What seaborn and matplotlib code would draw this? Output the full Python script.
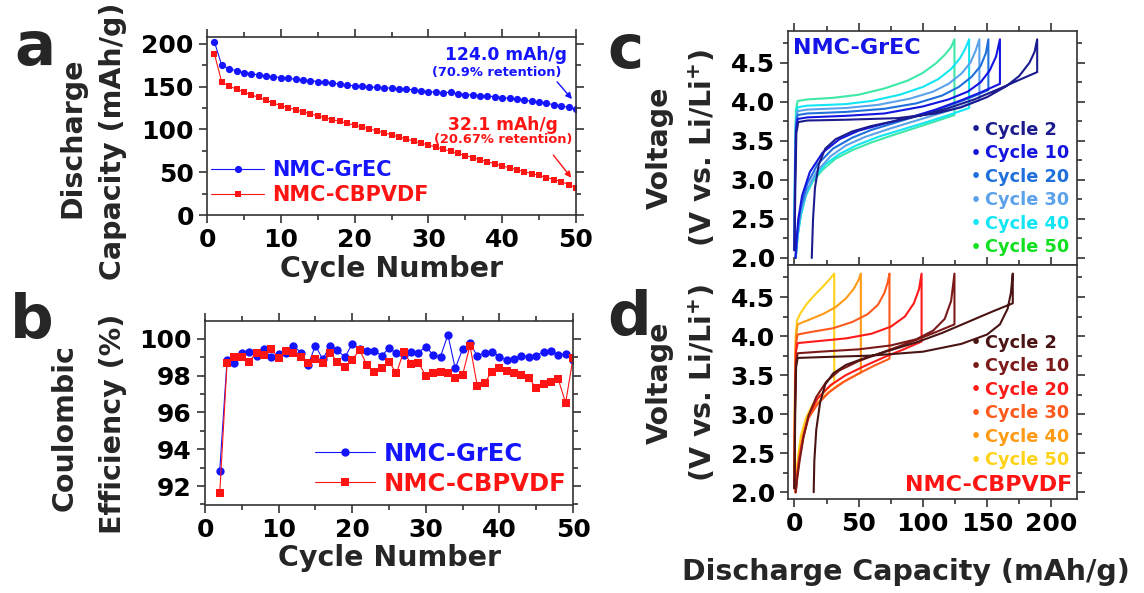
import numpy as np
import pandas as pd
import matplotlib
matplotlib.use("Agg")
import matplotlib.pyplot as plt
import seaborn as sns

# ---------------- data ----------------
cycles_a = list(range(1, 51))
grec_capacity = [202.5, 174.9, 171.0, 168.5, 166.5, 165.0, 163.8, 162.6, 161.6, 160.6,
                 159.6, 158.7, 157.8, 157.0, 156.0, 155.0, 154.0, 153.0, 151.8, 150.8,
                 150.2, 149.6, 149.0, 148.6, 148.2, 147.6, 147.0, 146.2, 145.2, 144.2,
                 143.5, 142.8, 143.6, 141.5, 140.8, 140.2, 139.6, 139.0, 138.2, 137.2,
                 136.3, 135.3, 134.2, 133.1, 131.8, 130.4, 129.0, 127.6, 125.8, 124.0]
cbpvdf_capacity = [188.3, 155.3, 150.5, 147.0, 143.8, 140.5, 137.4, 134.2, 130.8, 127.8,
                   125.4, 123.0, 120.6, 118.2, 115.8, 113.6, 111.4, 109.3, 107.2, 105.0,
                   102.8, 100.6, 98.3, 96.0, 93.6, 91.2, 88.8, 86.4, 84.0, 81.8,
                   79.4, 77.0, 74.6, 72.0, 69.5, 67.0, 64.6, 62.2, 59.8, 57.4,
                   55.1, 52.8, 50.6, 48.4, 46.2, 43.8, 41.4, 38.9, 35.6, 32.1]

cycles_b = list(range(2, 51))
grec_ce = [92.83, 98.86, 98.68, 99.22, 99.31, 99.09, 99.44, 99.00, 99.18, 99.26,
           99.64, 99.26, 98.58, 99.64, 98.89, 99.64, 99.40, 99.00, 99.73, 99.44,
           99.36, 99.36, 99.09, 99.49, 99.22, 99.13, 99.31, 99.26, 99.58, 99.13,
           99.04, 100.22, 98.40, 99.44, 99.76, 99.07, 99.26, 99.31, 99.04, 98.86,
           98.93, 99.09, 99.04, 99.09, 99.31, 99.35, 99.13, 99.18, 98.86]
cbpvdf_ce = [91.60, 98.68, 99.00, 99.00, 98.77, 99.26, 99.13, 99.44, 98.95, 99.36,
             99.22, 99.04, 98.68, 98.89, 98.68, 99.22, 98.77, 98.46, 98.86, 99.40,
             98.58, 98.22, 98.44, 98.77, 98.13, 99.31, 98.64, 98.71, 97.99, 98.13,
             98.19, 98.17, 97.86, 98.04, 99.64, 97.44, 97.62, 98.22, 98.40, 98.28,
             98.17, 98.04, 97.89, 97.31, 97.53, 97.68, 97.80, 96.53, 98.95]

curve_cycles = [2, 10, 20, 30, 40, 50]
grec_colors = ["#1c1c8e", "#1515e0", "#2070dc", "#5ca2ea", "#12e6f5", "#3ee8a6"]
grec_label_colors = ["#1c1c8e", "#1515e0", "#2070dc", "#5ca2ea", "#12e6f5", "#10e020"]
cbpvdf_colors = ["#4a1414", "#7c1a1a", "#ff1a1a", "#ff5a1e", "#ff9a14", "#ffd21a"]

grec_x = {
    2: [0, 0.8, 1.5, 3, 10, 40, 80, 110, 130, 150, 165, 175, 183, 187, 189,
        189, 175, 160, 140, 120, 100, 80, 60, 45, 32, 24, 19, 16, 14.5, 13.5],
    10: [0, 0.5, 1.2, 2.5, 10, 40, 70, 100, 120, 135, 145, 152, 157, 160,
         160, 145, 130, 110, 90, 70, 50, 35, 22, 12, 6, 3, 1.5, 0.8],
    20: [0, 0.5, 1.2, 2.5, 10, 40, 70, 95, 115, 128, 138, 145, 149, 151,
         151, 135, 120, 100, 80, 60, 45, 30, 18, 10, 5, 2.5, 1],
    30: [0, 0.5, 1.2, 2.5, 10, 40, 65, 90, 108, 120, 130, 137, 141, 144,
         144, 130, 115, 95, 75, 55, 40, 28, 17, 10, 5, 2.5, 1],
    40: [0, 0.5, 1.2, 2.5, 10, 40, 60, 82, 100, 112, 122, 129, 133, 136,
         136, 122, 105, 85, 65, 48, 35, 24, 15, 9, 5, 2.5, 1],
    50: [0, 0.5, 1.2, 2.5, 10, 30, 50, 70, 88, 100, 110, 117, 122, 124.6,
         124.6, 110, 95, 78, 60, 45, 32, 22, 14, 9, 5, 2.5, 1],
}
grec_v = {
    2: [2.1, 3.0, 3.6, 3.74, 3.76, 3.77, 3.79, 3.85, 3.93, 4.06, 4.2, 4.33, 4.5, 4.64, 4.8,
        4.38, 4.28, 4.17, 4.03, 3.92, 3.83, 3.76, 3.69, 3.62, 3.52, 3.4, 3.2, 2.9, 2.5, 2.0],
    10: [2.1, 3.0, 3.6, 3.78, 3.80, 3.82, 3.85, 3.94, 4.03, 4.13, 4.25, 4.4, 4.58, 4.8,
         4.23, 4.12, 4.02, 3.9, 3.8, 3.72, 3.63, 3.52, 3.35, 3.1, 2.8, 2.5, 2.2, 2.0],
    20: [2.1, 3.1, 3.7, 3.83, 3.85, 3.87, 3.91, 3.98, 4.08, 4.19, 4.32, 4.46, 4.62, 4.8,
         4.15, 4.04, 3.95, 3.84, 3.74, 3.64, 3.54, 3.4, 3.2, 2.95, 2.65, 2.35, 2.0],
    30: [2.1, 3.2, 3.75, 3.88, 3.9, 3.92, 3.96, 4.04, 4.13, 4.23, 4.36, 4.5, 4.65, 4.8,
         4.02, 3.94, 3.86, 3.76, 3.66, 3.55, 3.44, 3.3, 3.1, 2.88, 2.6, 2.3, 2.0],
    40: [2.1, 3.3, 3.8, 3.93, 3.95, 3.97, 4.01, 4.09, 4.19, 4.29, 4.42, 4.56, 4.68, 4.8,
         3.92, 3.84, 3.75, 3.65, 3.55, 3.44, 3.33, 3.2, 3.02, 2.82, 2.55, 2.28, 2.0],
    50: [2.1, 3.4, 3.9, 4.01, 4.03, 4.05, 4.09, 4.17, 4.27, 4.37, 4.49, 4.6, 4.7, 4.8,
         3.83, 3.75, 3.67, 3.58, 3.48, 3.38, 3.27, 3.13, 2.97, 2.8, 2.55, 2.28, 2.0],
}
cbpvdf_x = {
    2: [0, 0.6, 1.3, 2.5, 20, 60, 100, 130, 150, 160, 166, 168.5, 170,
        170, 155, 135, 115, 95, 75, 55, 40, 30, 24, 20, 17, 15.5, 15],
    10: [0, 0.5, 1.2, 2.5, 20, 50, 75, 95, 108, 117, 122, 124.6,
         124.6, 110, 90, 70, 50, 35, 25, 17, 11, 7, 4, 2, 1],
    20: [0, 0.5, 1.2, 2.5, 15, 40, 60, 75, 86, 93, 97, 99,
         99, 85, 70, 55, 40, 28, 18, 11, 7, 4, 2, 1],
    30: [0, 0.5, 1.2, 2.5, 12, 30, 45, 57, 65, 70, 72.5, 74,
         74, 62, 50, 38, 27, 18, 11, 7, 4, 2, 1],
    40: [0, 0.5, 1.2, 2.5, 10, 22, 32, 40, 46, 50, 51.7,
         51.7, 42, 33, 25, 18, 12, 8, 5, 3, 1.5, 0.8],
    50: [0, 0.4, 1, 2, 5, 10, 16, 22, 27, 31,
         31, 26, 20, 14, 9, 5, 3, 1.5, 0.7],
}
cbpvdf_v = {
    2: [2.05, 3.0, 3.6, 3.72, 3.73, 3.75, 3.8, 3.9, 4.02, 4.15, 4.35, 4.55, 4.8,
        4.42, 4.32, 4.18, 4.04, 3.92, 3.82, 3.72, 3.63, 3.52, 3.38, 3.15, 2.8, 2.4, 2.0],
    10: [2.05, 3.1, 3.65, 3.78, 3.8, 3.83, 3.88, 3.96, 4.07, 4.22, 4.45, 4.8,
         4.15, 4.05, 3.92, 3.8, 3.68, 3.56, 3.42, 3.22, 2.98, 2.7, 2.4, 2.15, 2.0],
    20: [2.05, 3.2, 3.8, 3.91, 3.93, 3.97, 4.03, 4.12, 4.25, 4.42, 4.6, 4.8,
         3.93, 3.83, 3.73, 3.62, 3.5, 3.37, 3.2, 2.98, 2.72, 2.45, 2.2, 2.0],
    30: [2.05, 3.3, 3.9, 4.02, 4.05, 4.1, 4.18, 4.28, 4.4, 4.55, 4.68, 4.8,
         3.71, 3.62, 3.52, 3.41, 3.28, 3.13, 2.95, 2.72, 2.45, 2.2, 2.0],
    40: [2.05, 3.4, 4.0, 4.15, 4.2, 4.28, 4.37, 4.48, 4.6, 4.72, 4.8,
         3.53, 3.45, 3.36, 3.26, 3.14, 3.0, 2.82, 2.6, 2.38, 2.18, 2.0],
    50: [2.05, 3.5, 4.0, 4.2, 4.3, 4.42, 4.53, 4.63, 4.72, 4.8,
         3.4, 3.33, 3.24, 3.12, 2.95, 2.72, 2.48, 2.25, 2.0],
}

BLUE = "#1414ff"
RED = "#ff1414"

# ---------------- style ----------------
sns.set_style("ticks")
plt.rcParams["font.family"] = ["DejaVu Sans"]
plt.rcParams["font.weight"] = "bold"
plt.rcParams["axes.labelweight"] = "bold"
plt.rcParams["axes.edgecolor"] = "#333333"
plt.rcParams["axes.linewidth"] = 1.2

W, H = 1144, 593
fig = plt.figure(figsize=(W / 100, H / 100), dpi=100)


def rect(l, t, r, b):
    return [l / W, 1 - b / H, (r - l) / W, (b - t) / H]


ax_a = fig.add_axes(rect(207, 37, 576, 215))
ax_b = fig.add_axes(rect(205, 320.5, 573, 504.5))
ax_c = fig.add_axes(rect(788, 30.7, 1077, 265))
ax_d = fig.add_axes(rect(788, 265, 1077, 499.3))

TICK_FS = 18
LABEL_FS = 20.5


def style_ticks(ax, labelbottom=True):
    ax.tick_params(which="both", direction="out", top=True, right=True,
                   labeltop=False, labelright=False, labelbottom=labelbottom,
                   colors="#333333", labelcolor="black", labelsize=TICK_FS, width=1.2)
    ax.tick_params(which="major", length=6)
    ax.tick_params(which="minor", length=3.5)
    for lab in ax.get_xticklabels() + ax.get_yticklabels():
        lab.set_fontweight("bold")


# ---------------- panel a ----------------
df_a = pd.DataFrame({"Cycle": cycles_a * 2,
                     "Capacity": grec_capacity + cbpvdf_capacity,
                     "Cell": ["NMC-GrEC"] * 50 + ["NMC-CBPVDF"] * 50})
sns.lineplot(data=df_a[df_a.Cell == "NMC-GrEC"], x="Cycle", y="Capacity", ax=ax_a,
             color=BLUE, marker="o", markersize=5.2, markeredgewidth=0, linewidth=0.8,
             label="NMC-GrEC")
sns.lineplot(data=df_a[df_a.Cell == "NMC-CBPVDF"], x="Cycle", y="Capacity", ax=ax_a,
             color=RED, marker="s", markersize=4.8, markeredgewidth=0, linewidth=0.8,
             label="NMC-CBPVDF")
ax_a.set_xlim(0, 50)
ax_a.set_ylim(0, 208)
ax_a.set_xticks(range(0, 51, 10))
ax_a.set_xticks(range(5, 50, 10), minor=True)
ax_a.set_yticks(range(0, 201, 50))
ax_a.set_yticks(range(25, 201, 50), minor=True)
ax_a.set_xlabel("Cycle Number", fontsize=LABEL_FS, fontweight="bold", labelpad=2)
ax_a.set_ylabel("")
style_ticks(ax_a)
leg = ax_a.legend(loc="lower left", bbox_to_anchor=(0.0, 0.03), frameon=False,
                  fontsize=15, handlelength=2.55, handletextpad=0.38, labelspacing=0.25,
                  borderpad=0.2, borderaxespad=0)
for t, c in zip(leg.get_texts(), [BLUE, RED]):
    t.set_color(c)
    t.set_fontweight("bold")

ax_a.annotate("124.0 mAh/g", xy=(40.5, 187), ha="center", va="center",
              fontsize=12.3, color=BLUE, fontweight="bold")
ax_a.annotate("(70.9% retention)", xy=(39.3, 166.4), ha="center", va="center",
              fontsize=9.4, color=BLUE, fontweight="bold")
ax_a.annotate("", xy=(49.7, 133), xytext=(47.2, 158),
              arrowprops=dict(arrowstyle="-|>", color=BLUE, lw=1.0, mutation_scale=9))
ax_a.annotate("32.1 mAh/g", xy=(40.1, 105), ha="center", va="center",
              fontsize=12.3, color=RED, fontweight="bold")
ax_a.annotate("(20.67% retention)", xy=(40.1, 87.7), ha="center", va="center",
              fontsize=9.4, color=RED, fontweight="bold")
ax_a.annotate("", xy=(49.6, 41), xytext=(46.7, 72.5),
              arrowprops=dict(arrowstyle="-|>", color=RED, lw=1.0, mutation_scale=9))

# ---------------- panel b ----------------
df_b = pd.DataFrame({"Cycle": cycles_b * 2,
                     "CE": grec_ce + cbpvdf_ce,
                     "Cell": ["NMC-GrEC"] * len(cycles_b) + ["NMC-CBPVDF"] * len(cycles_b)})
sns.lineplot(data=df_b[df_b.Cell == "NMC-GrEC"], x="Cycle", y="CE", ax=ax_b,
             color=BLUE, marker="o", markersize=6, markeredgewidth=0, linewidth=0.8,
             label="NMC-GrEC")
sns.lineplot(data=df_b[df_b.Cell == "NMC-CBPVDF"], x="Cycle", y="CE", ax=ax_b,
             color=RED, marker="s", markersize=5.4, markeredgewidth=0, linewidth=0.8,
             label="NMC-CBPVDF")
ax_b.set_xlim(0, 50)
ax_b.set_ylim(91, 101)
ax_b.set_xticks(range(0, 51, 10))
ax_b.set_xticks(range(5, 50, 10), minor=True)
ax_b.set_yticks(range(92, 101, 2))
ax_b.set_yticks(range(91, 101, 2), minor=True)
ax_b.set_xlabel("Cycle Number", fontsize=LABEL_FS, fontweight="bold", labelpad=2)
ax_b.set_ylabel("")
style_ticks(ax_b)
leg = ax_b.legend(loc="lower left", bbox_to_anchor=(0.285, 0.02), frameon=False,
                  fontsize=17.5, handlelength=2.47, handletextpad=0.37, labelspacing=0.25,
                  borderpad=0.2, borderaxespad=0)
for t, c in zip(leg.get_texts(), [BLUE, RED]):
    t.set_color(c)
    t.set_fontweight("bold")

# ---------------- panels c, d ----------------
for ax, xs, vs, cols, lcols in [(ax_c, grec_x, grec_v, grec_colors, grec_label_colors),
                                (ax_d, cbpvdf_x, cbpvdf_v, cbpvdf_colors, cbpvdf_colors)]:
    for cyc, col in zip(curve_cycles[::-1], cols[::-1]):
        df = pd.DataFrame({"Capacity": xs[cyc], "Voltage": vs[cyc]})
        sns.lineplot(data=df, x="Capacity", y="Voltage", sort=False, estimator=None,
                     ax=ax, color=col, linewidth=1.5)
    ax.set_xlim(-5, 220)
    ax.set_ylim(1.91, 4.91)
    ax.set_xticks(range(0, 201, 50))
    ax.set_xticks(range(25, 201, 50), minor=True)
    ax.set_yticks([2.0, 2.5, 3.0, 3.5, 4.0, 4.5])
    ax.set_yticks([2.25, 2.75, 3.25, 3.75, 4.25, 4.75], minor=True)
    ax.yaxis.set_major_formatter(matplotlib.ticker.FormatStrFormatter("%.1f"))
    ax.set_ylabel("")
    ax.set_xlabel("")
    top = 130 if ax is ax_c else 342.7
    for i, (cyc, lc) in enumerate(zip(curve_cycles, lcols)):
        ypx = top + i * 23.5
        ax.text((976 - 788) / 289, 1 - (ypx - (30.7 if ax is ax_c else 265)) / 234.3,
                "•", transform=ax.transAxes, ha="center", va="center",
                color=lc, fontsize=11.5, fontweight="bold")
        ax.text((985 - 788) / 289, 1 - (ypx - (30.7 if ax is ax_c else 265)) / 234.3,
                f"Cycle {cyc}", transform=ax.transAxes, ha="left", va="center",
                color=lc, fontsize=12.8, fontweight="bold")

style_ticks(ax_c, labelbottom=False)
style_ticks(ax_d)
ax_c.text((793 - 788) / 289, 1 - (48 - 30.7) / 234.3, "NMC-GrEC", transform=ax_c.transAxes,
          ha="left", va="center", color="#1414e6", fontsize=16, fontweight="bold")
ax_d.text((1072 - 788) / 289, 1 - (485 - 265) / 234.3, "NMC-CBPVDF", transform=ax_d.transAxes,
          ha="right", va="center", color=RED, fontsize=16, fontweight="bold")
ax_d.set_xlabel("Discharge Capacity (mAh/g)", fontsize=LABEL_FS, fontweight="bold", labelpad=2)
ax_d.xaxis.set_label_coords((906 - 788) / 289, -0.25)

# ---------------- y labels & panel letters ----------------
def ytext(xpx, ypx, s):
    fig.text(xpx / W, 1 - ypx / H, s, rotation=90, ha="center", va="center",
             fontsize=LABEL_FS, fontweight="bold")


ytext(72, 138, "Discharge")
ytext(113, 141, "Capacity (mAh/g)")
ytext(65, 428, "Coulombic")
ytext(113, 424, "Efficiency (%)")
ytext(660, 148, "Voltage")
ytext(703, 148, "(V vs. Li/Li$^{\\mathbf{+}}$)")
ytext(660, 383, "Voltage")
ytext(703, 383, "(V vs. Li/Li$^{\\mathbf{+}}$)")

for s, xpx, ypx in [("a", 14, 65), ("b", 10, 338), ("c", 607, 68), ("d", 607, 335)]:
    fig.text(xpx / W, 1 - ypx / H, s, ha="left", va="baseline", fontsize=44,
             fontweight="bold")

fig.savefig("out.png", dpi=100)
